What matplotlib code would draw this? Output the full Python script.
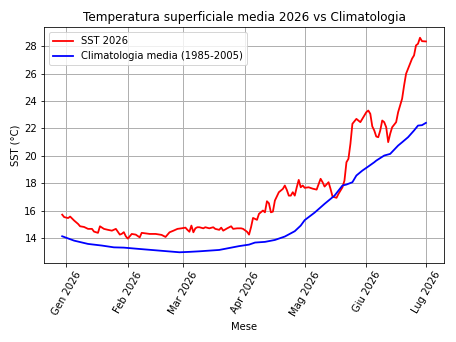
import datetime as dt
import matplotlib
matplotlib.use('Agg')
import matplotlib.pyplot as plt

# giorni dal 1 gennaio 2026
sst_giorni = [-2, -1, 1, 2, 4, 6, 7, 9, 11, 13, 14, 16, 17, 19, 21, 23, 25, 27, 28,
              29, 30, 31, 33, 35, 37, 38, 42, 45, 48, 50, 52, 54, 56, 58, 60, 61,
              62, 63, 64, 65, 66, 67, 69, 70, 72, 74, 75, 77, 78, 79, 81, 83, 84,
              86, 88, 89, 91, 92, 93, 94, 96, 97, 99, 100, 101, 102, 103, 104, 105,
              107, 109, 110, 111, 112, 113, 114, 115, 116, 117, 118, 119, 120, 122,
              124, 126, 128, 129, 130, 132, 133, 134, 136, 137, 139, 140, 141, 142,
              143, 144, 146, 147, 148, 149, 151, 152, 153, 154, 155, 156, 157, 158,
              159, 160, 161, 162, 163, 164, 166, 167, 169, 170, 171, 172, 174, 175,
              176, 177, 178, 179, 181]
sst_valori = [15.70, 15.52, 15.45, 15.56, 15.27, 15.02, 14.85, 14.80, 14.66, 14.66,
              14.46, 14.37, 14.85, 14.66, 14.59, 14.53, 14.66, 14.24, 14.30, 14.42,
              14.12, 13.95, 14.29, 14.24, 14.04, 14.37, 14.29, 14.29, 14.22, 14.07,
              14.41, 14.53, 14.66, 14.70, 14.75, 14.59, 14.45, 14.90, 14.41, 14.70,
              14.78, 14.78, 14.70, 14.78, 14.70, 14.78, 14.66, 14.59, 14.75, 14.53,
              14.70, 14.85, 14.66, 14.70, 14.70, 14.66, 14.45, 14.24, 14.78, 15.46,
              15.32, 15.76, 16.00, 15.87, 16.68, 16.53, 15.87, 15.92, 16.73, 17.34,
              17.58, 17.83, 17.51, 17.09, 17.09, 17.34, 17.09, 17.70, 18.24, 17.70,
              17.83, 17.66, 17.70, 17.60, 17.53, 18.32, 18.07, 17.75, 18.07, 17.58,
              17.02, 16.93, 17.22, 17.70, 18.19, 19.53, 19.78, 20.88, 22.34, 22.70,
              22.58, 22.46, 22.70, 23.19, 23.31, 23.07, 22.15, 21.85, 21.41, 21.36,
              21.85, 22.58, 22.46, 22.09, 21.00, 21.61, 22.09, 22.46, 23.19, 24.17,
              25.14, 26.00, 26.36, 27.10, 27.34, 28.07, 28.19, 28.63, 28.38, 28.36]

clim_giorni = [-2, 4, 11, 18, 24, 29, 37, 47, 57, 62, 67, 77, 87, 92, 95, 100, 105,
               110, 115, 118, 120, 125, 130, 135, 139, 141, 144, 146, 149, 152, 155,
               156, 160, 163, 167, 169, 172, 175, 177, 179, 181]
clim_valori = [14.12, 13.80, 13.56, 13.44, 13.31, 13.29, 13.19, 13.07, 12.95, 12.98,
               13.02, 13.12, 13.40, 13.51, 13.66, 13.71, 13.85, 14.10, 14.49, 14.90,
               15.30, 15.85, 16.49, 17.09, 17.83, 17.90, 18.07, 18.56, 18.92, 19.22,
               19.53, 19.65, 20.02, 20.14, 20.75, 20.99, 21.36, 21.85, 22.21, 22.24,
               22.41]

mesi = ['Gen 2026', 'Feb 2026', 'Mar 2026', 'Apr 2026', 'Mag 2026', 'Giu 2026', 'Lug 2026']

inizio = dt.date(2026, 1, 1)
sst_date = [inizio + dt.timedelta(days=g) for g in sst_giorni]
clim_date = [inizio + dt.timedelta(days=g) for g in clim_giorni]
tick_date = [dt.date(2026, m, 1) for m in range(1, 8)]

fig, ax = plt.subplots(figsize=(456 / 72, 342 / 72), dpi=72)
fig.subplots_adjust(left=0.0965, right=0.974, top=0.921, bottom=0.231)

ax.plot(sst_date, sst_valori, color='red', lw=1.8, label='SST 2026')
ax.plot(clim_date, clim_valori, color='blue', lw=1.8, label='Climatologia media (1985-2005)')

ax.set_xticks(tick_date)
ax.set_xticklabels(mesi, rotation=60)
ax.set_title('Temperatura superficiale media 2026 vs Climatologia')
ax.set_xlabel('Mese')
ax.set_ylabel('SST (°C)')
ax.grid(True, lw=1.0)
ax.legend(loc='upper left')

fig.savefig('out.png', dpi=72)
